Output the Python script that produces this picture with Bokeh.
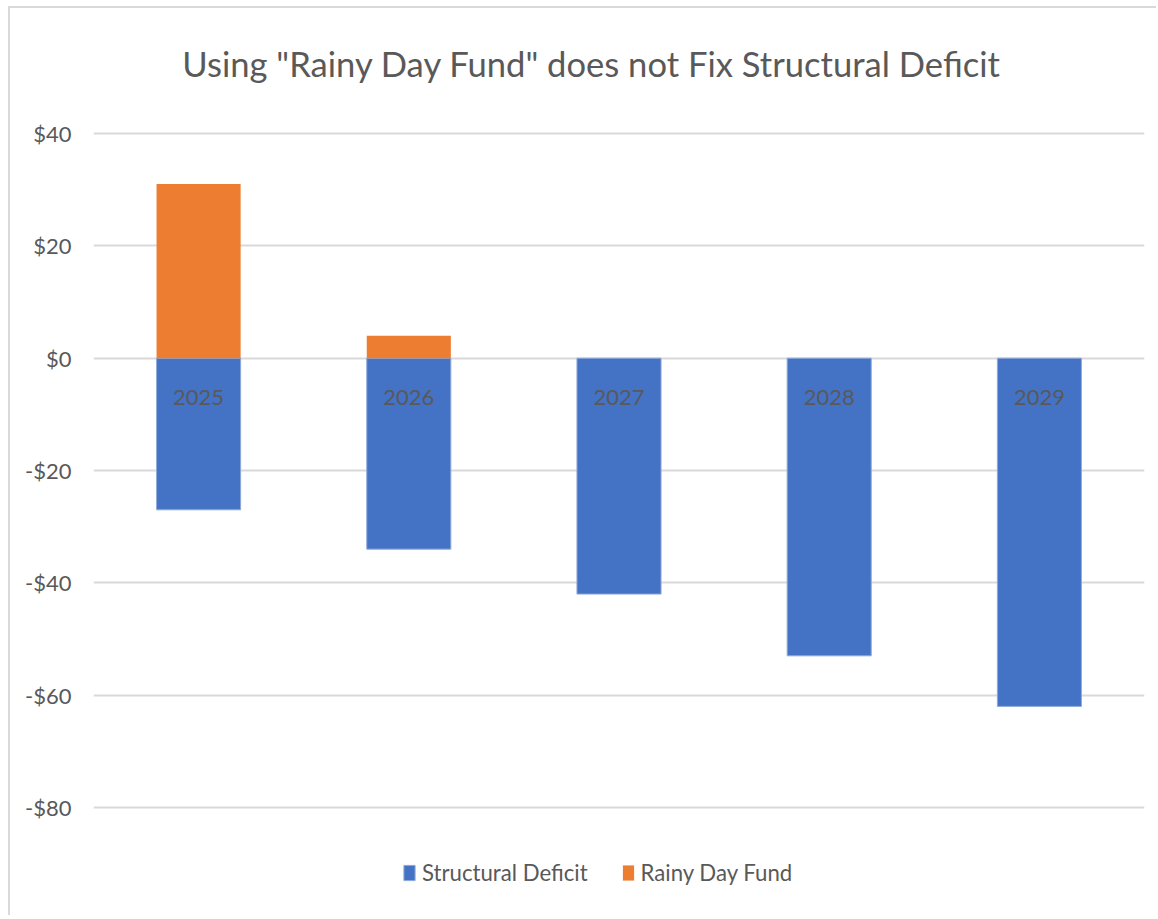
from bokeh.plotting import figure
from bokeh.models import FactorRange, Range1d, FixedTicker, Legend, LegendItem, ColumnDataSource, Label
from bokeh.core.properties import value
from bokeh.embed import file_html
from bokeh.resources import INLINE

years = ["2025", "2026", "2027", "2028", "2029"]
structural_deficit = [-27, -34, -42, -53, -62]
rainy_day_fund = [31, 4, 0, 0, 0]
tick_values = [-80, -60, -40, -20, 0, 20, 40]
tick_labels = ["-$80", "-$60", "-$40", "-$20", "$0", "$20", "$40"]
title_text = 'Using "Rainy Day Fund" does not Fix Structural Deficit'

FONT = "Lato"
GRAY = "#595959"
BLUE = "#4472C4"
ORANGE = "#ED7D31"

# layout (pixels): the gridlines span -80..40 over 674 px, 125 px below the canvas top;
# the frame covers the whole canvas height so title and legend can sit inside it
W, H = 1148, 909
TOP, LEFT, RIGHT = 125, 83, 14
grid_px = 674
px_per_unit = grid_px / (tick_values[-1] - tick_values[0])
y_end = tick_values[-1] + TOP / px_per_unit
y_start = tick_values[0] - (H - TOP - grid_px) / px_per_unit
title_y = tick_values[-1] + (TOP - 55) / px_per_unit
title_x = (591 - 93) / 210.0  # synthetic categorical coordinate

p = figure(
    x_range=FactorRange(*years, range_padding=0),
    y_range=Range1d(y_start, y_end),
    width=W, height=H,
    min_border_left=LEFT, min_border_right=RIGHT, min_border_top=0, min_border_bottom=0,
    output_backend="svg", toolbar_location=None,
    styles={"border-top": "2px solid #d9d9d9", "border-left": "2px solid #d9d9d9",
            "margin-left": "8px", "margin-top": "6px"},
)
p.outline_line_color = None
p.background_fill_color = "white"
p.border_fill_color = "white"

p.add_layout(Label(x=title_x, y=title_y, text=title_text, text_align="center",
                   text_baseline="middle", text_font=FONT, text_font_size="34.6px",
                   text_color=GRAY))

src = ColumnDataSource(dict(x=years, sd=structural_deficit, rd=rainy_day_fund, zero=[0] * len(years)))

r_sd = p.vbar(x="x", top="zero", bottom="sd", width=0.4, source=src,
              fill_color=BLUE, line_color="#8eaadb", line_width=1)
r_rd = p.vbar(x="x", top="rd", bottom="zero", width=0.4, source=src,
              fill_color=ORANGE, line_color=None)

# category labels at the zero line
p.text(x="x", y="zero", text="x", source=src, text_align="center", text_baseline="middle",
       y_offset=39, text_font=value(FONT), text_font_size="22px", text_color=GRAY)

p.xaxis.visible = False
p.xgrid.grid_line_color = None
p.ygrid.grid_line_color = "#d9d9d9"
p.ygrid.grid_line_width = 2
p.ygrid.ticker = FixedTicker(ticks=tick_values)

yax = p.yaxis[0]
yax.ticker = FixedTicker(ticks=tick_values)
yax.major_label_overrides = {v: s for v, s in zip(tick_values, tick_labels)}
yax.axis_line_color = None
yax.major_tick_line_color = None
yax.minor_tick_line_color = None
yax.major_tick_out = 0
yax.major_label_standoff = 22
yax.major_label_text_font = FONT
yax.major_label_text_font_size = "22px"
yax.major_label_text_color = GRAY

legend = Legend(
    items=[LegendItem(label="Structural Deficit", renderers=[r_sd]),
           LegendItem(label="Rainy Day Fund", renderers=[r_rd])],
    orientation="horizontal",
    location=(309, 31),
    padding=0, margin=0, spacing=33, label_standoff=6,
    glyph_width=14, glyph_height=19,
    label_text_font=FONT, label_text_font_size="22.2px", label_text_color=GRAY,
    border_line_color=None, background_fill_alpha=0,
)
p.add_layout(legend, "center")

open("out.html", "w").write(file_html(p, INLINE))
